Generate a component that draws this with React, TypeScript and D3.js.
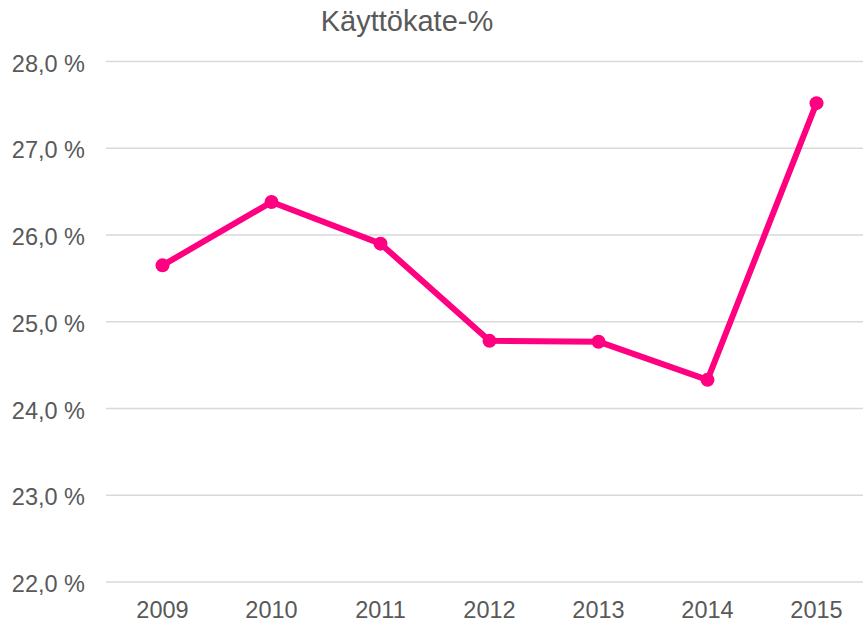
import React from "react";
import * as d3 from "d3";

const categories = ["2009", "2010", "2011", "2012", "2013", "2014", "2015"];
const values = [25.65, 26.38, 25.9, 24.78, 24.77, 24.33, 27.52];
const yTicks = [22, 23, 24, 25, 26, 27, 28];
const title = "Käyttökate-%";

const W = 863;
const H = 625;
const FONT = "'Liberation Sans', Arial, sans-serif";

export default function App() {
  const x = d3.scaleBand<string>().domain(categories).range([108, 871]);
  const y = d3.scaleLinear().domain([22, 28]).range([582, 61.5]);
  const line = d3
    .line<number>()
    .x((_, i) => (x(categories[i]) as number) + x.bandwidth() / 2)
    .y((d) => y(d));
  const fmt = (v: number) => d3.format(".1f")(v).replace(".", ",") + " %";

  return (
    <svg
      width={W}
      height={H}
      style={{ position: "fixed", left: 0, top: 0, background: "#fff" }}
      fontFamily={FONT}
    >
      <rect width={W} height={H} fill="#fff" />
      <text x={407} y={31} textAnchor="middle" fontSize={29} fill="#595959">
        {title}
      </text>
      {yTicks.map((t) => (
        <g key={t}>
          <line x1={106} x2={871} y1={y(t)} y2={y(t)} stroke="#d9d9d9" strokeWidth={1.5} />
          <text x={85} y={y(t) + 2} dy="0.35em" textAnchor="end" fontSize={23.5} fill="#595959">
            {fmt(t)}
          </text>
        </g>
      ))}
      {categories.map((c) => (
        <text
          key={c}
          x={(x(c) as number) + x.bandwidth() / 2}
          y={618}
          textAnchor="middle"
          fontSize={23.5}
          fill="#595959"
        >
          {c}
        </text>
      ))}
      <path d={line(values) || ""} fill="none" stroke="#FF0080" strokeWidth={6} strokeLinejoin="round" />
      {values.map((v, i) => (
        <circle
          key={i}
          cx={(x(categories[i]) as number) + x.bandwidth() / 2}
          cy={y(v)}
          r={7}
          fill="#FF0080"
        />
      ))}
    </svg>
  );
}
